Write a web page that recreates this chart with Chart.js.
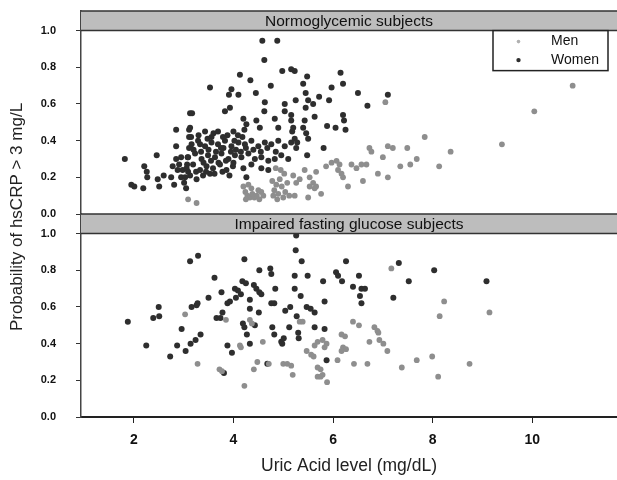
<!DOCTYPE html>
<html>
<head>
<meta charset="utf-8">
<script src="https://cdn.jsdelivr.net/npm/chart.js"></script>
<style>
  html, body { margin: 0; padding: 0; background: #fff; }
  #wrap { width: 617px; height: 480px; position: relative; }
</style>
</head>
<body>
<div id="wrap"><canvas id="chart"></canvas></div>
<script>
// uric acid (x) vs probability of hsCRP > 3 mg/L (y)
const panelTitles = ['Normoglycemic subjects', 'Impaired fasting glucose subjects'];
const seriesNames = ['Men', 'Women'];
const xTicks = [2, 4, 6, 8, 10];
const yTicks = [0, 0.2, 0.4, 0.6, 0.8, 1.0];

const normWomen = [
    [1.82,0.30],[1.95,0.16],[2.01,0.15],[2.19,0.14],[2.21,0.26],[2.26,0.23],[2.27,0.20],[2.46,0.32],
    [2.48,0.19],[2.51,0.15],[2.60,0.21],[2.85,0.46],[2.85,0.37],
    [2.75,0.20],[2.78,0.26],[2.81,0.16],[2.85,0.30],[2.88,0.24],[2.91,0.27],[2.95,0.31],[2.95,0.20],
    [2.98,0.24],[3.01,0.17],[3.05,0.14],[3.07,0.27],[3.08,0.31],[3.09,0.23],[3.11,0.36],[3.11,0.42],
    [3.11,0.46],[3.13,0.55],[3.17,0.55],[3.13,0.47],[3.15,0.42],
    [3.16,0.38],[3.29,0.40],[3.43,0.37],[3.56,0.39],[3.69,0.38],[3.83,0.40],[3.96,0.37],[4.10,0.39],
    [4.23,0.38],[4.36,0.40],[4.50,0.37],[4.63,0.39],[4.76,0.38],[4.90,0.40],[5.03,0.37],[5.16,0.39],
    [3.09,0.31],[3.23,0.33],[3.36,0.30],[3.49,0.32],[3.63,0.31],[3.76,0.33],[3.90,0.30],[4.03,0.32],
    [4.16,0.31],[4.30,0.33],[4.43,0.30],[4.56,0.31],[4.70,0.29],[4.83,0.30],[4.96,0.32],[5.10,0.30],
    [3.06,0.25],[3.19,0.27],[3.33,0.24],[3.46,0.26],[3.59,0.25],[3.73,0.27],[3.86,0.24],[3.99,0.26],
    [4.20,0.25],[4.36,0.27],[4.56,0.25],[4.70,0.24],
    [3.03,0.20],[3.13,0.21],[3.26,0.19],[3.39,0.21],[3.53,0.22],[4.26,0.20],
    [3.20,0.35],[3.35,0.34],[3.50,0.35],[3.65,0.34],[3.80,0.36],[3.95,0.34],[4.05,0.35],[4.15,0.34],
    [4.25,0.36],[3.40,0.28],[3.55,0.29],[3.70,0.28],[3.85,0.29],[4.00,0.28],[3.25,0.23],[3.45,0.23],
    [3.62,0.22],[3.78,0.23],[3.30,0.43],[3.48,0.41],[3.60,0.44],[3.75,0.36],[3.88,0.43],[4.02,0.40],
    [4.18,0.42],[4.40,0.35],[4.55,0.34],[4.68,0.36],[4.85,0.34],[3.92,0.21],
    [4.58,0.945],[4.88,0.945],[4.62,0.84],[4.13,0.76],[4.34,0.73],[3.53,0.69],[4.98,0.78],[5.16,0.79],
    [4.75,0.70],[4.45,0.66],[3.96,0.68],[3.91,0.65],[4.10,0.65],[3.83,0.56],[3.93,0.58],[4.63,0.61],
    [4.62,0.56],[5.03,0.60],[5.03,0.56],[4.20,0.52],[4.26,0.49],[4.22,0.46],[4.46,0.51],[4.53,0.47],
    [4.83,0.52],[4.90,0.47],[5.16,0.54],[5.20,0.47],[4.00,0.45],[4.09,0.43],[3.69,0.45],[3.79,0.42],
    [3.43,0.45],[3.33,0.38],[3.56,0.42],
    [5.23,0.78],[5.48,0.75],[5.40,0.71],[6.15,0.77],[6.20,0.71],[5.97,0.69],[6.50,0.66],[7.10,0.65],
    [6.69,0.59],[5.25,0.62],[5.45,0.66],[5.50,0.62],[5.60,0.60],[5.45,0.58],[5.72,0.64],[5.92,0.62],
    [5.63,0.53],[6.20,0.54],[6.22,0.51],[5.88,0.48],[6.05,0.47],[6.25,0.46],[5.43,0.51],[5.46,0.44],
    [5.50,0.41],[5.40,0.47],[5.16,0.51],[5.18,0.45],[5.23,0.41],[5.28,0.39],[5.26,0.36],[5.81,0.36],
    [5.48,0.32]
];

const normMen = [
    [3.09,0.08],[3.26,0.06],
    [4.20,0.15],[4.24,0.12],[4.28,0.10],[4.33,0.09],[4.38,0.11],[4.42,0.09],[4.47,0.10],[4.52,0.08],
    [4.56,0.12],[4.60,0.10],[4.25,0.08],[4.36,0.14],[4.50,0.13],[4.30,0.16],
    [4.78,0.18],[4.82,0.13],[4.86,0.16],[4.90,0.11],[4.93,0.19],[4.97,0.15],[5.00,0.09],[5.04,0.12],
    [5.08,0.17],[5.12,0.10],[4.88,0.08],[4.80,0.10],[5.02,0.22],[4.95,0.24],[4.85,0.25],
    [5.20,0.21],[5.26,0.17],[5.33,0.19],[5.53,0.20],[5.60,0.17],[5.66,0.15],[5.53,0.15],[5.63,0.14],
    [5.23,0.10],[5.50,0.09],[5.76,0.11],[5.43,0.24],[5.66,0.23],[5.86,0.26],[5.97,0.28],[6.07,0.29],
    [6.13,0.27],[6.10,0.24],[6.17,0.22],[6.20,0.20],[6.37,0.27],[6.47,0.25],[6.57,0.27],[6.67,0.27],
    [6.60,0.18],[6.30,0.15],[6.90,0.22],[7.10,0.20],[6.73,0.36],[6.77,0.34],[7.00,0.31],[7.10,0.37],
    [7.20,0.36],[7.05,0.61],
    [7.49,0.36],[7.84,0.42],[7.68,0.30],[7.35,0.26],[7.55,0.27],[8.13,0.26],[8.36,0.34],[9.39,0.38],
    [10.04,0.56],[10.81,0.70]
];

const ifgWomen = [
    [1.88,0.52],[2.25,0.39],[2.39,0.54],[2.50,0.60],[2.51,0.55],[2.73,0.33],[2.87,0.39],[2.96,0.48],
    [3.04,0.36],[3.13,0.85],[3.29,0.88],[3.16,0.60],[3.26,0.61],[3.28,0.62],[3.14,0.40],[3.24,0.42],
    [3.34,0.45],[3.50,0.65],[3.62,0.76],[3.66,0.54],[3.74,0.54],[3.78,0.57],[3.76,0.68],[3.88,0.39],
    [3.97,0.35],[3.81,0.24],[3.88,0.62],[3.93,0.63],[4.03,0.70],[4.09,0.69],[4.15,0.67],[4.05,0.65],
    [4.18,0.74],[4.25,0.73],[4.22,0.86],[4.19,0.51],[4.22,0.49],[4.27,0.45],[4.33,0.40],[4.33,0.64],
    [4.33,0.59],[4.41,0.72],[4.46,0.70],[4.52,0.68],[4.56,0.67],[4.43,0.50],[4.51,0.57],[4.52,0.80],
    [4.74,0.81],[4.76,0.78],[4.84,0.70],[4.76,0.62],[4.82,0.62],[4.78,0.49],[4.82,0.45],[4.68,0.29],
    [4.96,0.41],[4.98,0.40],[5.01,0.43],[5.04,0.58],[5.14,0.60],[5.12,0.49],[5.23,0.77],[5.23,0.70],
    [5.25,0.91],[5.26,0.99],[5.27,0.55],[5.30,0.46],[5.31,0.43],[5.35,0.66],[5.37,0.85],[5.49,0.77],
    [5.47,0.60],[5.55,0.59],[5.63,0.57],[5.63,0.49],[5.80,0.74],[5.83,0.63],[5.83,0.48],[5.87,0.31],
    [6.06,0.79],[6.10,0.77],[6.18,0.74],[6.26,0.85],[6.40,0.71],[6.52,0.77],[6.54,0.66],[6.57,0.62],
    [6.57,0.70],[6.64,0.70],[7.21,0.65],[7.32,0.84],[7.52,0.74],[8.03,0.80],[9.08,0.74]
];

const ifgMen = [
    [3.03,0.56],[3.28,0.29],[3.72,0.26],[3.77,0.25],[3.85,0.53],[4.15,0.38],[4.13,0.39],[4.22,0.17],
    [4.33,0.53],[4.37,0.51],[4.41,0.26],[4.48,0.30],[4.59,0.41],[4.71,0.29],[5.00,0.29],[5.08,0.29],
    [5.16,0.28],[5.19,0.23],[5.33,0.52],[5.39,0.52],[5.47,0.36],[5.56,0.34],[5.61,0.33],[5.63,0.39],
    [5.69,0.41],[5.69,0.27],[5.75,0.26],[5.79,0.23],[5.79,0.42],[5.83,0.38],[5.87,0.40],[5.69,0.22],
    [5.75,0.22],[5.88,0.19],[6.09,0.31],[6.17,0.45],[6.24,0.44],[6.20,0.38],[6.26,0.37],[6.17,0.36],
    [6.42,0.29],[6.40,0.52],[6.52,0.50],[6.69,0.29],[6.73,0.41],[6.83,0.49],[6.89,0.47],[6.91,0.46],
    [6.93,0.42],[7.01,0.40],[7.09,0.36],[7.17,0.81],[7.38,0.27],[7.68,0.31],[7.99,0.33],[8.11,0.22],
    [8.14,0.55],[8.23,0.63],[8.74,0.29],[9.14,0.57]
];

const MEN_COLOR = '#8e8e8e';
const WOMEN_COLOR = '#2e2e2e';
const STRIP_TOP = 1.107; // room above 1.0 for the grey panel strip

Chart.defaults.font.family = "'Liberation Sans', Arial, sans-serif";
Chart.defaults.color = '#111';

const toPoints = (arr) => arr.map(([x, y]) => ({ x, y }));

const makeSet = (label, data, color, axis, r) => ({
    label,
    data: toPoints(data),
    yAxisID: axis,
    backgroundColor: color,
    borderWidth: 0,
    pointRadius: r,
    pointHoverRadius: r
});

const yScale = () => ({
    type: 'linear',
    position: 'left',
    stack: 'panels',
    stackWeight: 1,
    min: 0,
    max: STRIP_TOP,
    afterBuildTicks: (s) => { s.ticks = yTicks.map(v => ({ value: v })); },
    afterFit: (s) => { s.width = 81; s.paddingTop = 0; s.paddingBottom = 0; },
    ticks: {
        autoSkip: false,
        padding: 20,
        font: { size: 11, weight: 'bold' },
        color: '#111',
        callback: (v) => Number(v).toFixed(1)
    },
    grid: { drawOnChartArea: false, tickLength: 5, color: '#333' },
    border: { color: '#444', width: 1.5 }
});

// grey header strips on top of each panel + legend + y title
const panelDecor = {
    id: 'panelDecor',
    afterDatasetsDraw(chart) {
        const ctx = chart.ctx;
        const { left, right, top, bottom } = chart.chartArea;
        ['yTop', 'yBot'].forEach((id, i) => {
            const s = chart.scales[id];
            const y0 = s.getPixelForValue(STRIP_TOP);
            const y1 = s.getPixelForValue(1);
            ctx.save();
            ctx.fillStyle = '#bdbdbd';
            ctx.fillRect(left, y0, right - left, y1 - y0);
            ctx.strokeStyle = '#333';
            ctx.lineWidth = 1.5;
            ctx.beginPath();
            ctx.moveTo(left, y0); ctx.lineTo(right, y0);
            ctx.moveTo(left, y1); ctx.lineTo(right, y1);
            ctx.stroke();
            ctx.fillStyle = '#111';
            ctx.font = "15.5px 'Liberation Sans', Arial, sans-serif";
            ctx.textAlign = 'center';
            ctx.textBaseline = 'middle';
            ctx.fillText(panelTitles[i], (left + right) / 2, (y0 + y1) / 2 + 1);
            ctx.restore();
        });

        // legend box in the top panel's upper right corner
        const sTop = chart.scales.yTop;
        const boxTop = sTop.getPixelForValue(1);
        const boxLeft = right - 124;
        ctx.save();
        ctx.fillStyle = '#fff';
        ctx.fillRect(boxLeft, boxTop, 115, 40);
        ctx.strokeStyle = '#222';
        ctx.lineWidth = 1.5;
        ctx.strokeRect(boxLeft, boxTop, 115, 40);
        const colors = [MEN_COLOR, WOMEN_COLOR];
        seriesNames.forEach((name, i) => {
            const cy = boxTop + 11 + i * 18.5;
            ctx.fillStyle = i === 0 ? '#b0b0b0' : colors[i];
            ctx.beginPath();
            ctx.arc(boxLeft + 25.5, cy, i === 0 ? 1.8 : 2.2, 0, Math.PI * 2);
            ctx.fill();
            ctx.fillStyle = '#111';
            ctx.font = "14px 'Liberation Sans', Arial, sans-serif";
            ctx.textAlign = 'left';
            ctx.textBaseline = 'middle';
            ctx.fillText(name, boxLeft + 58, cy);
        });
        ctx.restore();

        // shared y title
        ctx.save();
        ctx.translate(17, (top + bottom) / 2 + 3);
        ctx.rotate(-Math.PI / 2);
        ctx.fillStyle = '#222';
        ctx.font = "17px 'Liberation Sans', Arial, sans-serif";
        ctx.textAlign = 'center';
        ctx.textBaseline = 'middle';
        ctx.fillText('Probability of hsCRP > 3 mg/L', 0, 0);
        ctx.restore();
    }
};

new Chart(document.getElementById('chart'), {
    type: 'scatter',
    data: {
        datasets: [
            makeSet('Men', normMen, MEN_COLOR, 'yTop', 2.9),
            makeSet('Women', normWomen, WOMEN_COLOR, 'yTop', 3),
            makeSet('Men', ifgMen, MEN_COLOR, 'yBot', 2.9),
            makeSet('Women', ifgWomen, WOMEN_COLOR, 'yBot', 3)
        ]
    },
    options: {
        responsive: true,
        maintainAspectRatio: false,
        animation: false,
        layout: { autoPadding: false, padding: { top: 11, right: 0, bottom: 0, left: 0 } },
        plugins: {
            legend: { display: false },
            tooltip: { enabled: false }
        },
        scales: {
            x: {
                type: 'linear',
                min: 0.94,
                max: 11.7,
                afterBuildTicks: (s) => { s.ticks = xTicks.map(v => ({ value: v })); },
                afterFit: (s) => { s.height = 63; s.paddingLeft = 0; s.paddingRight = 0; },
                ticks: { padding: 9, font: { size: 14, weight: 'bold' }, color: '#111' },
                grid: { drawOnChartArea: false, tickLength: 6, color: '#222' },
                border: { color: '#222', width: 2 },
                title: {
                    display: true,
                    text: 'Uric Acid level (mg/dL)',
                    font: { size: 17.5 },
                    color: '#222',
                    padding: { top: 4, bottom: 3 }
                }
            },
            // stacked scales are laid out bottom-up in definition order
            yBot: yScale(),
            yTop: yScale()
        }
    },
    plugins: [panelDecor]
});
</script>
</body>
</html>
